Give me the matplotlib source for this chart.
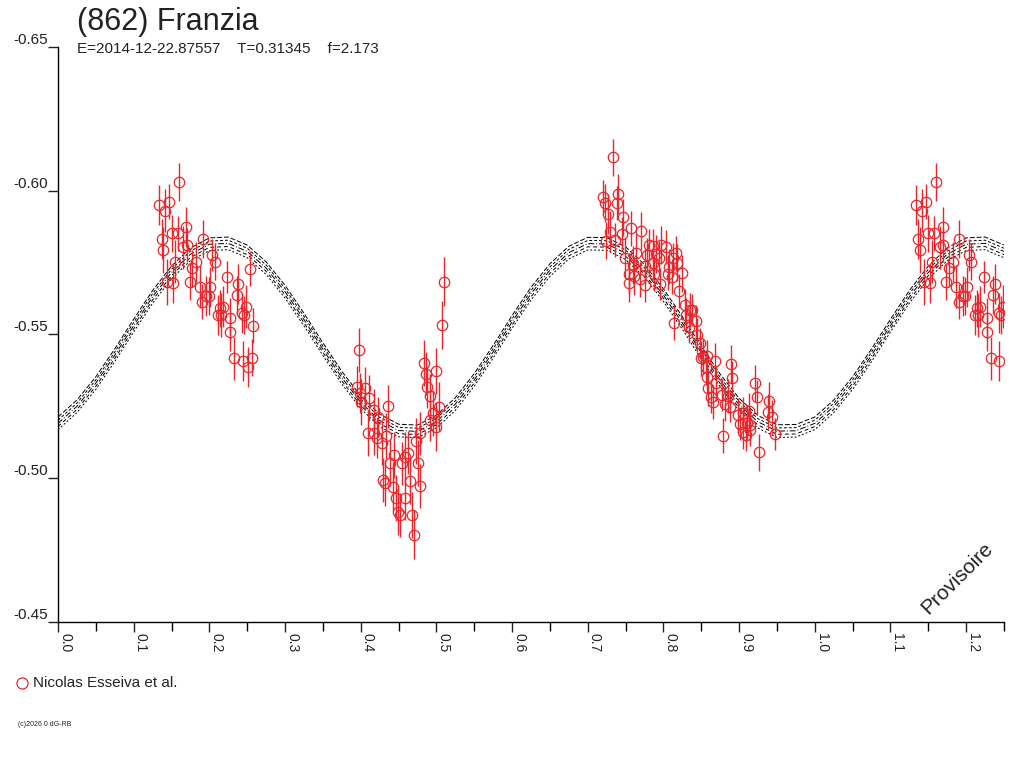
import numpy as np
import matplotlib
matplotlib.use("Agg")
import matplotlib.pyplot as plt
from matplotlib.lines import Line2D

plt.rcParams['font.family'] = ['Liberation Sans', 'DejaVu Sans']

phase = [
    # around 0.13 - 0.26
    0.160, 0.134, 0.147, 0.141, 0.169, 0.150, 0.158, 0.137, 0.139, 0.191,
    0.165, 0.170, 0.204, 0.207, 0.155, 0.182, 0.177, 0.254, 0.223, 0.144,
    0.152, 0.174, 0.238, 0.187, 0.201, 0.236, 0.196, 0.199, 0.190, 0.249,
    0.214, 0.218, 0.243, 0.246, 0.212, 0.216, 0.227, 0.258, 0.227, 0.233,
    0.244, 0.257, 0.251,
    # around 0.39 - 0.51
    0.510, 0.507, 0.398, 0.484, 0.486, 0.499, 0.488, 0.395, 0.406, 0.491,
    0.411, 0.399, 0.436, 0.504, 0.401, 0.417, 0.423, 0.496, 0.491, 0.500,
    0.409, 0.417, 0.421, 0.434, 0.428, 0.473, 0.478, 0.444, 0.462, 0.458,
    0.439, 0.454, 0.476, 0.430, 0.432, 0.442, 0.465, 0.478, 0.447, 0.458,
    0.449, 0.452, 0.468, 0.470,
    # around 0.72 - 0.86
    0.733, 0.720, 0.740, 0.723, 0.738, 0.727, 0.746, 0.757, 0.770, 0.729,
    0.745, 0.724, 0.736, 0.781, 0.786, 0.797, 0.803, 0.764, 0.816, 0.749,
    0.778, 0.790, 0.794, 0.813, 0.760, 0.775, 0.786, 0.808, 0.818, 0.755,
    0.761, 0.788, 0.806, 0.811, 0.824, 0.769, 0.754, 0.775, 0.795, 0.821,
    0.828, 0.835, 0.838, 0.830, 0.843, 0.814, 0.834, 0.844, 0.848, 0.852,
    0.857,
    # around 0.85 - 0.95
    0.850, 0.868, 0.889, 0.856, 0.857, 0.891, 0.870, 0.921, 0.859, 0.877,
    0.885, 0.923, 0.863, 0.866, 0.940, 0.881, 0.888, 0.938, 0.899, 0.905,
    0.913, 0.943, 0.901, 0.910, 0.915, 0.905, 0.914, 0.947, 0.879, 0.909,
    0.926,
]
mag = [
    -0.6031, -0.5950, -0.5962, -0.5931, -0.5875, -0.5852, -0.5852, -0.5831, -0.5794, -0.5832,
    -0.5803, -0.5811, -0.5777, -0.5753, -0.5753, -0.5753, -0.5730, -0.5729, -0.5699, -0.5684,
    -0.5680, -0.5684, -0.5676, -0.5666, -0.5666, -0.5637, -0.5634, -0.5634, -0.5614, -0.5597,
    -0.5591, -0.5597, -0.5574, -0.5568, -0.5568, -0.5568, -0.5556, -0.5531, -0.5508, -0.5417,
    -0.5409, -0.5419, -0.5388,
    -0.5684, -0.5533, -0.5446, -0.5402, -0.5363, -0.5374, -0.5316, -0.5319, -0.5313, -0.5286,
    -0.5280, -0.5296, -0.5251, -0.5249, -0.5266, -0.5237, -0.5214, -0.5226, -0.5203, -0.5179,
    -0.5158, -0.5156, -0.5139, -0.5147, -0.5122, -0.5131, -0.5156, -0.5081, -0.5089, -0.5075,
    -0.5052, -0.5052, -0.5054, -0.4994, -0.4982, -0.4971, -0.4992, -0.4973, -0.4932, -0.4930,
    -0.4884, -0.4872, -0.4872, -0.4803,
    -0.6116, -0.5979, -0.5988, -0.5958, -0.5958, -0.5919, -0.5908, -0.5869, -0.5860, -0.5858,
    -0.5850, -0.5826, -0.5829, -0.5811, -0.5808, -0.5811, -0.5805, -0.5785, -0.5782, -0.5765,
    -0.5776, -0.5780, -0.5765, -0.5765, -0.5742, -0.5738, -0.5748, -0.5736, -0.5750, -0.5710,
    -0.5703, -0.5710, -0.5710, -0.5701, -0.5713, -0.5692, -0.5678, -0.5672, -0.5676, -0.5652,
    -0.5603, -0.5585, -0.5585, -0.5568, -0.5547, -0.5541, -0.5527, -0.5498, -0.5469, -0.5423,
    -0.5425,
    -0.5417, -0.5409, -0.5397, -0.5386, -0.5353, -0.5348, -0.5330, -0.5330, -0.5313, -0.5290,
    -0.5286, -0.5282, -0.5282, -0.5266, -0.5270, -0.5258, -0.5249, -0.5232, -0.5220, -0.5228,
    -0.5235, -0.5212, -0.5189, -0.5191, -0.5185, -0.5162, -0.5168, -0.5154, -0.5148, -0.5150,
    -0.5090,
]
err = [
    0.0065, 0.0070, 0.0060, 0.0075, 0.0070, 0.0065, 0.0060, 0.0070, 0.0080, 0.0065,
    0.0075, 0.0060, 0.0055, 0.0065, 0.0075, 0.0070, 0.0065, 0.0060, 0.0055, 0.0080,
    0.0070, 0.0065, 0.0070, 0.0075, 0.0070, 0.0065, 0.0070, 0.0065, 0.0060, 0.0075,
    0.0065, 0.0070, 0.0070, 0.0065, 0.0070, 0.0075, 0.0070, 0.0060, 0.0065, 0.0075,
    0.0070, 0.0065, 0.0070,
    0.0085, 0.0085, 0.0075, 0.0080, 0.0075, 0.0080, 0.0070, 0.0070, 0.0075, 0.0075,
    0.0080, 0.0070, 0.0075, 0.0085, 0.0080, 0.0075, 0.0070, 0.0080, 0.0075, 0.0085,
    0.0080, 0.0075, 0.0070, 0.0080, 0.0075, 0.0080, 0.0075, 0.0080, 0.0075, 0.0085,
    0.0080, 0.0075, 0.0080, 0.0075, 0.0080, 0.0085, 0.0080, 0.0075, 0.0080, 0.0075,
    0.0080, 0.0075, 0.0080, 0.0085,
    0.0065, 0.0060, 0.0070, 0.0065, 0.0060, 0.0070, 0.0065, 0.0060, 0.0065, 0.0070,
    0.0060, 0.0065, 0.0060, 0.0055, 0.0060, 0.0065, 0.0060, 0.0065, 0.0060, 0.0070,
    0.0060, 0.0065, 0.0060, 0.0055, 0.0065, 0.0060, 0.0055, 0.0060, 0.0065, 0.0070,
    0.0065, 0.0060, 0.0055, 0.0060, 0.0065, 0.0060, 0.0065, 0.0060, 0.0055, 0.0060,
    0.0055, 0.0060, 0.0055, 0.0060, 0.0055, 0.0060, 0.0055, 0.0060, 0.0055, 0.0060,
    0.0055,
    0.0060, 0.0060, 0.0065, 0.0060, 0.0055, 0.0060, 0.0060, 0.0065, 0.0060, 0.0055,
    0.0060, 0.0060, 0.0055, 0.0060, 0.0065, 0.0060, 0.0055, 0.0060, 0.0060, 0.0055,
    0.0060, 0.0060, 0.0055, 0.0060, 0.0055, 0.0060, 0.0055, 0.0055, 0.0060, 0.0055,
    0.0065,
]

# fitted light curve, read every 0.025 in phase from 0.0 to 1.25
curve_phase = [i * 0.025 for i in range(51)]
curve_mag = [
    -0.5191, -0.5250, -0.5331, -0.5428, -0.5531, -0.5631, -0.5716, -0.5779, -0.5814, -0.5817,
    -0.5789, -0.5731, -0.5649, -0.5552, -0.5449, -0.5350, -0.5264, -0.5201, -0.5166, -0.5163,
    -0.5197, -0.5258, -0.5342, -0.5440, -0.5544, -0.5642, -0.5724, -0.5785, -0.5816, -0.5815,
    -0.5783, -0.5721, -0.5637, -0.5540, -0.5437, -0.5340, -0.5256, -0.5196, -0.5164, -0.5165,
    -0.5191, -0.5250, -0.5331, -0.5428, -0.5531, -0.5631, -0.5716, -0.5779, -0.5814, -0.5817,
    -0.5789,
]
curve_offsets = [-0.0022, -0.0011, 0.0, 0.0011, 0.0022]
curve_dashes = [(0, (5, 2)), (0, (3, 2)), (0, (6, 2, 1, 2)), (0, (4, 3)), (0, (2, 2))]

red = '#e8262b'

fig = plt.figure(figsize=(10.24, 7.68), dpi=100)
ax = fig.add_axes([58 / 1024, 1 - 622 / 768, (1004 - 58) / 1024, (622 - 47) / 768])

cm = np.array(curve_mag)
for off, ds in zip(curve_offsets, curve_dashes):
    ax.plot(curve_phase, cm + off, color='black', lw=0.7, linestyle=ds)

ph = np.array(phase)
mg = np.array(mag)
er = np.array(err)
# show the first quarter of the phase again after 1.0
rep = ph < 0.25
ph_all = np.concatenate([ph, ph[rep] + 1.0])
mg_all = np.concatenate([mg, mg[rep]])
er_all = np.concatenate([er, er[rep]])

ax.errorbar(ph_all, mg_all, yerr=er_all, fmt='o', mfc='none', mec=red, mew=0.9,
            ms=7.5, ecolor=red, elinewidth=1.0, capsize=0, zorder=3)

ax.set_xlim(0, 1.25)
ax.set_ylim(-0.45, -0.65)

ax.spines['top'].set_visible(False)
ax.spines['right'].set_visible(False)
ax.spines['left'].set_linewidth(1)
ax.spines['bottom'].set_linewidth(1)

ax.set_xticks(np.arange(0, 1.21, 0.1))
ax.set_xticks(np.arange(0.05, 1.26, 0.1), minor=True)
ax.set_xticklabels(['%.1f' % v for v in np.arange(0, 1.21, 0.1)])
ax.tick_params(axis='x', which='major', direction='out', length=7, width=1, pad=1,
               labelsize=10, labelrotation=-90, colors='#222222')
ax.tick_params(axis='x', which='minor', direction='out', length=6.5, width=1)
for lab in ax.get_xticklabels():
    lab.set_horizontalalignment('left')

yt = [-0.65, -0.60, -0.55, -0.50, -0.45]
ax.set_yticks(yt)
ax.set_yticklabels(['%.2f' % v for v in yt])
ax.tick_params(axis='y', direction='out', length=7.5, width=1, pad=0, labelsize=11,
               colors='#222222')
for lab in ax.get_yticklabels():
    lab.set_verticalalignment('bottom')

fig.text(77 / 1024, 1 - 30 / 768, '(862) Franzia', fontsize=22, color='#222222',
         va='baseline')
fig.text(77 / 1024, 1 - 53 / 768, 'E=2014-12-22.87557    T=0.31345    f=2.173',
         fontsize=11, color='#222222', va='baseline')

fig.add_artist(Line2D([22 / 1024], [1 - 683 / 768], marker='o', mfc='none', mec=red,
                      mew=0.9, ms=8, transform=fig.transFigure))
fig.text(33 / 1024, 1 - 683 / 768, 'Nicolas Esseiva et al.', fontsize=11,
         color='#222222', va='center')
fig.text(18 / 1024, 1 - 725 / 768, '(c)2026 0 dG-RB', fontsize=5, color='#222222',
         va='center')

fig.text(957 / 1024, 1 - 578 / 768, 'Provisoire', fontsize=15, rotation=45,
         ha='center', va='center', color='#222222')

fig.savefig('out.png', dpi=100)
